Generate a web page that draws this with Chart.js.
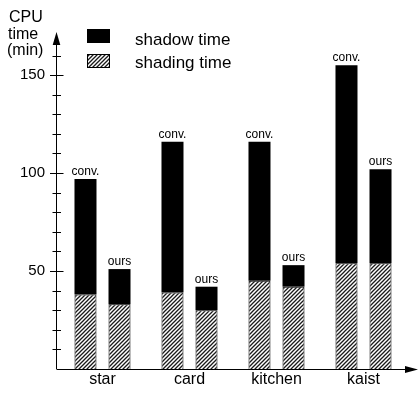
<!DOCTYPE html>
<html>
<head>
<meta charset="utf-8">
<script src="https://cdn.jsdelivr.net/npm/chart.js@4.4.1/dist/chart.umd.min.js"></script>
<style>
  html, body { margin: 0; padding: 0; background: #fff; }
  #wrap { width: 419px; height: 397px; position: relative; }
</style>
</head>
<body>
<div id="wrap"><canvas id="c" width="419" height="397"></canvas></div>
<script>
// ---- data ----
const categories = ['star', 'card', 'kitchen', 'kaist'];
const shadingConv = [38, 39, 45, 54];     // shading time, conventional
const shadowConv  = [59, 77, 71, 101];    // shadow time, conventional (totals 97,116,116,155)
const shadingOurs = [33, 30, 42, 54];     // shading time, ours
const shadowOurs  = [18, 12, 11, 48];     // shadow time, ours (totals 51,42,53,102)
const barLabels = ['conv.', 'ours'];
const legendLabels = ['shadow time', 'shading time'];
const yTickLabels = [50, 100, 150];
const axisTitle = ['CPU', 'time', '(min)'];

const FONT = "'Liberation Sans', Arial, Helvetica, sans-serif";

function makeHatch() {
  const c = document.createElement('canvas');
  c.width = 4; c.height = 4;
  const g = c.getContext('2d');
  g.fillStyle = '#ffffff';
  g.fillRect(0, 0, 4, 4);
  g.strokeStyle = '#1a1a1a';
  g.lineWidth = 1.3;
  g.beginPath();
  g.moveTo(0, 4); g.lineTo(4, 0);
  g.moveTo(-1, 1); g.lineTo(1, -1);
  g.moveTo(3, 5); g.lineTo(5, 3);
  g.stroke();
  return g.createPattern(c, 'repeat');
}
const hatch = makeHatch();

const decor = {
  id: 'decor',
  afterDatasetsDraw(chart) {
    const ctx = chart.ctx;
    ctx.save();
    ctx.fillStyle = '#000';
    ctx.font = '12px ' + FONT;
    ctx.textAlign = 'center';
    ctx.textBaseline = 'alphabetic';
    [[1, barLabels[0]], [3, barLabels[1]]].forEach(([di, txt]) => {
      const meta = chart.getDatasetMeta(di);
      meta.data.forEach(el => {
        ctx.fillText(txt, el.x, el.y - 4);
      });
    });
    ctx.restore();
  },
  afterDraw(chart) {
    const ctx = chart.ctx;
    const ca = chart.chartArea;
    const ys = chart.scales.y;
    const ax = ca.left - 3 + 0.5;
    ctx.save();
    ctx.strokeStyle = '#000';
    ctx.fillStyle = '#000';
    ctx.lineWidth = 1;
    // y axis line + arrow
    const tip = ys.getPixelForValue(ys.max);
    ctx.beginPath();
    ctx.moveTo(ax, ca.bottom);
    ctx.lineTo(ax, tip + 10);
    ctx.stroke();
    ctx.beginPath();
    ctx.moveTo(ax, tip);
    ctx.lineTo(ax - 3.8, tip + 13);
    ctx.lineTo(ax + 3.8, tip + 13);
    ctx.closePath();
    ctx.fill();
    // tick marks crossing the axis
    ys.ticks.forEach(t => {
      const v = t.value;
      if (v <= 0 || v > 160) return;
      const py = Math.round(ys.getPixelForValue(v)) + 0.5;
      const half = (v % 50 === 0) ? 6.5 : 4;
      ctx.beginPath();
      ctx.moveTo(ax - half, py);
      ctx.lineTo(ax + half + 0.5, py);
      ctx.stroke();
    });
    // x axis line + arrow
    const by = ca.bottom + 0.5;
    const xe = chart.width - 1;
    ctx.beginPath();
    ctx.moveTo(ax, by);
    ctx.lineTo(xe - 10, by);
    ctx.stroke();
    ctx.beginPath();
    ctx.moveTo(xe, by);
    ctx.lineTo(xe - 13, by - 3.5);
    ctx.lineTo(xe - 13, by + 3.5);
    ctx.closePath();
    ctx.fill();
    // axis title
    ctx.font = '16px ' + FONT;
    ctx.textAlign = 'left';
    ctx.textBaseline = 'alphabetic';
    ctx.fillText(axisTitle[0], 9, 22);
    ctx.fillText(axisTitle[1], 8, 39);
    ctx.fillText(axisTitle[2], 7, 55);
    // legend
    ctx.fillStyle = '#000';
    ctx.fillRect(87, 29, 23, 14);
    ctx.fillStyle = hatch;
    ctx.fillRect(87, 54, 23, 14);
    ctx.strokeRect(87.5, 54.5, 22, 13);
    ctx.fillStyle = '#000';
    ctx.font = '17px ' + FONT;
    ctx.fillText(legendLabels[0], 135, 45);
    ctx.fillText(legendLabels[1], 135, 68);
    ctx.restore();
  }
};

new Chart(document.getElementById('c'), {
  type: 'bar',
  data: {
    labels: categories,
    datasets: [
      { label: 'shading time (conv.)', data: shadingConv, stack: 'conv',
        backgroundColor: hatch, borderColor: '#000', borderWidth: 1 },
      { label: 'shadow time (conv.)', data: shadowConv, stack: 'conv',
        backgroundColor: '#000', borderWidth: 0 },
      { label: 'shading time (ours)', data: shadingOurs, stack: 'ours',
        backgroundColor: hatch, borderColor: '#000', borderWidth: 1 },
      { label: 'shadow time (ours)', data: shadowOurs, stack: 'ours',
        backgroundColor: '#000', borderWidth: 0 }
    ]
  },
  options: {
    responsive: false,
    animation: false,
    devicePixelRatio: 1,
    layout: { padding: { top: 32, right: 12, bottom: 0, left: 0 } },
    datasets: { bar: { categoryPercentage: 0.782, barPercentage: 0.647 } },
    plugins: {
      legend: { display: false },
      tooltip: { enabled: false }
    },
    scales: {
      x: {
        stacked: true,
        grid: { display: false, drawTicks: false },
        border: { display: false },
        ticks: { color: '#000', font: { family: FONT, size: 16 }, padding: 1 },
        afterFit(s) { s.height = 28; }
      },
      y: {
        stacked: true,
        min: 0,
        max: 172,
        grid: { display: false, drawTicks: false },
        border: { display: false },
        ticks: {
          stepSize: 10,
          autoSkip: false,
          color: '#000',
          font: { family: FONT, size: 15 },
          padding: 14,
          callback: (v) => yTickLabels.includes(v) ? String(v) : ''
        },
        afterFit(s) { s.width = 59; }
      }
    }
  },
  plugins: [decor]
});
</script>
</body>
</html>
